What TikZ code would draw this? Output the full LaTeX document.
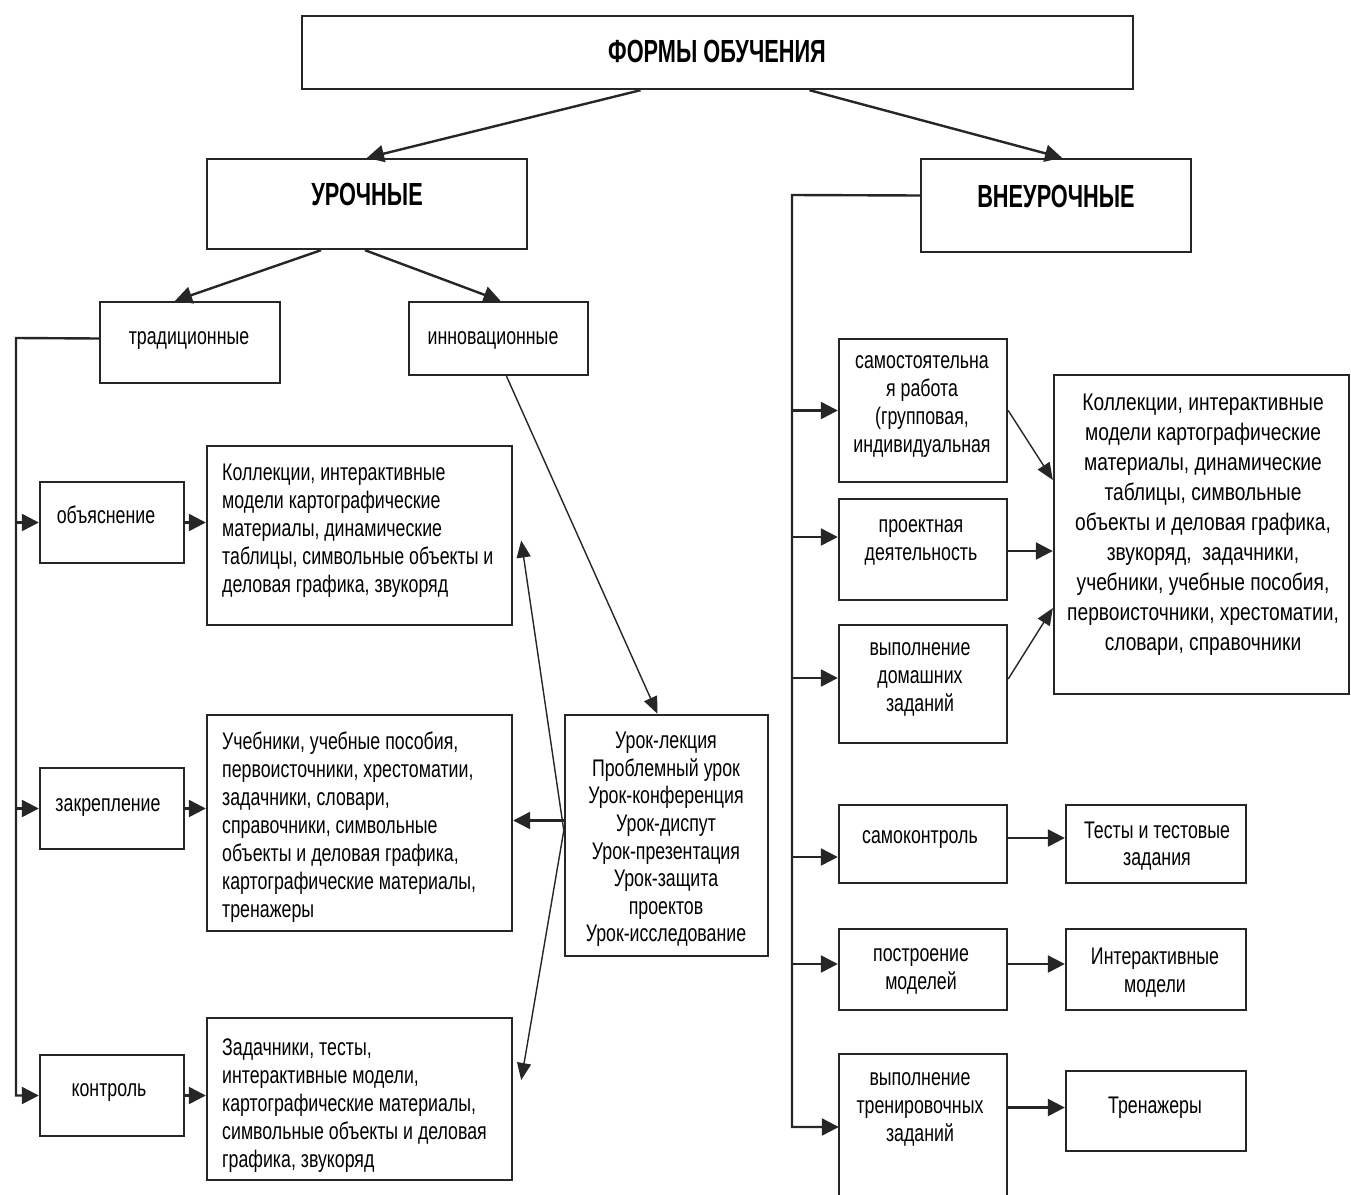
\documentclass[tikz,border=0pt]{standalone}
\usepackage{fontspec}
\setmainfont[FakeStretch=0.74]{Liberation Sans}
\newfontfamily\widefont[FakeStretch=0.8]{Liberation Sans}
\newfontfamily\headfont[FakeStretch=0.68]{Liberation Sans}
\usetikzlibrary{arrows.meta,calc,fit}
\begin{document}
\begin{tikzpicture}[x=1pt,y=-1pt,
  box/.style={draw=black!85, line width=2.4pt, inner sep=0pt},
  lnk/.style={draw=black!85, line width=2.4pt},
  arr/.style={lnk, -{Triangle[length=17pt,width=17pt]}},
  tarr/.style={draw=black!85, line width=1.4pt, -{Triangle[length=17pt,width=14pt]}},
  head/.style={font=\headfont\fontsize{32}{36}\selectfont\bfseries, anchor=base, inner sep=0pt},
  txt/.style={font=\fontsize{24}{28}\selectfont, anchor=north, align=center, inner sep=0pt, yshift=-5pt, execute at begin node=\strut},
  ltxt/.style={txt, anchor=north west, align=left}
]
\useasboundingbox[fill=white] (0,0) rectangle (1351,1194);

% headings
\node[box, fit={(302,16)(1133,89)}] (title) {};
\node[head] (titleT) at (717,62) {ФОРМЫ ОБУЧЕНИЯ};
\node[box, fit={(207,159)(527,249)}] (uro) {};
\node[head] (uroT) at (367,205) {УРОЧНЫЕ};
\node[box, fit={(921,159)(1191,252)}] (vne) {};
\node[head] (vneT) at (1056,207) {ВНЕУРОЧНЫЕ};

% left part
\node[box, fit={(100,302)(280,383)}] (trad) {};
\node[txt] (tradT) at (189,320) {традиционные};
\node[box, fit={(409,302)(588,375)}] (inn) {};
\node[txt] (innT) at (493,320) {инновационные};

\node[box, fit={(40,482)(184,563)}] (obj) {};
\node[txt] (objT) at (106,499) {объяснение};
\node[box, fit={(40,768)(184,849)}] (zak) {};
\node[txt] (zakT) at (108,787) {закрепление};
\node[box, fit={(40,1055)(184,1136)}] (kon) {};
\node[txt] (konT) at (109,1072) {контроль};

\node[box, fit={(207,446)(512,625)}] (b1) {};
\node[ltxt] (b1T) at (222,459) {Коллекции, интерактивные\\модели картографические\\материалы, динамические\\таблицы, символьные объекты и\\деловая графика, звукоряд};
\node[box, fit={(207,715)(512,931)}] (b2) {};
\node[ltxt] (b2T) at (222,727) {Учебники, учебные пособия,\\первоисточники, хрестоматии,\\задачники, словари,\\справочники, символьные\\объекты и деловая графика,\\картографические материалы,\\тренажеры};
\node[box, fit={(207,1018)(512,1180)}] (b3) {};
\node[ltxt] (b3T) at (222,1034) {Задачники, тесты,\\интерактивные модели,\\картографические материалы,\\символьные объекты и деловая\\графика, звукоряд};

\node[box, fit={(565,715)(768,956)}] (les) {};
\node[txt, font=\fontsize{24}{27.6}\selectfont] (lesT) at (666,727) {Урок-лекция\\Проблемный урок\\Урок-конференция\\Урок-диспут\\Урок-презентация\\Урок-защита\\проектов\\Урок-исследование};

% right part
\node[box, fit={(839,339)(1007,482)}] (sam) {};
\node[txt] (samT) at (922,350) {самостоятельна\\я работа\\(групповая,\\индивидуальная};
\node[box, fit={(839,499)(1007,600)}] (proj) {};
\node[txt] (projT) at (921,514) {проектная\\деятельность};
\node[box, fit={(839,625)(1007,743)}] (dom) {};
\node[txt] (domT) at (920,637) {выполнение\\домашних\\заданий};
\node[box, fit={(1054,375)(1349,694)}] (bigR) {};
\node[txt, font=\widefont\fontsize{24}{30}\selectfont] (bigRT) at (1203,389) {Коллекции, интерактивные\\модели картографические\\материалы, динамические\\таблицы, символьные\\объекты и деловая графика,\\звукоряд,\ \ задачники,\\учебники, учебные пособия,\\первоисточники, хрестоматии,\\словари, справочники};

\node[box, fit={(839,805)(1007,883)}] (samk) {};
\node[txt] (samkT) at (920,819) {самоконтроль};
\node[box, fit={(1066,805)(1246,883)}] (tst) {};
\node[txt, font=\fontsize{24}{27}\selectfont] (tstT) at (1157,817) {Тесты и тестовые\\задания};
\node[box, fit={(839,929)(1007,1010)}] (post) {};
\node[txt] (postT) at (921,943) {построение\\моделей};
\node[box, fit={(1066,929)(1246,1010)}] (intm) {};
\node[txt] (intmT) at (1155,943) {Интерактивные\\модели};
\node[fit={(839,1054)(1007,1200)}, inner sep=0pt] (vtr) {};
\draw[lnk] (vtr.south west) -- (vtr.north west) -- (vtr.north east) -- (vtr.south east);
\node[txt] (vtrT) at (920,1067) {выполнение\\тренировочных\\заданий};
\node[box, fit={(1066,1071)(1246,1151)}] (tren) {};
\node[txt] (trenT) at (1155,1089) {Тренажеры};

% connectors: top
\draw[arr] ($(title.south)+(-77,0)$) -- (uro.north);
\draw[arr] ($(title.south)+(92,0)$) -- ($(vne.north)+(6,0)$);
\draw[arr] ($(uro.south)+(-46,0)$) -- ($(trad.north)+(-15,0)$);
\draw[arr] ($(uro.south)+(-2,0)$) -- ($(inn.north)+(2,0)$);

% left trunk
\coordinate (L) at (16,338);
\draw[arr] ($(trad.west)+(0,-4)$) -- (L) -- (L |- kon.west) -- (kon.west);
\draw[arr] (L |- obj.west) -- (obj.west);
\draw[arr] (L |- zak.west) -- (zak.west);
\draw[arr] (obj.east) -- (obj.east -| b1.west);
\draw[arr] (zak.east) -- (zak.east -| b2.west);
\draw[arr] (kon.east) -- (kon.east -| b3.west);

% innovative
\draw[tarr] ($(inn.south)+(8,0)$) -- ($(les.north)+(-9,0)$);
\coordinate (LW) at ($(les.west)+(0,-15)$);
\draw[arr] (LW) -- (LW -| b2.east);
\coordinate (LC) at ($(les.west)+(0,-5)$);
\draw[tarr] (LC) -- ($(b1.east)+(8,5)$);
\draw[tarr] (LC) -- ($(b3.east)+(8,-19)$);

% right trunk
\coordinate (R) at (792,195);
\draw[arr] ($(vne.west)+(0,-10)$) -- (R) -- (R |- vtr.west) -- (vtr.west);
\draw[arr] (R |- sam.west) -- (sam.west);
\coordinate (pw) at ($(proj.west)+(0,-12.5)$);
\draw[arr] (R |- pw) -- (pw);
\coordinate (dw) at ($(dom.west)+(0,-6)$);
\draw[arr] (R |- dw) -- (dw);
\coordinate (sw) at ($(samk.west)+(0,13)$);
\draw[arr] (R |- sw) -- (sw);
\coordinate (qw) at ($(post.west)+(0,-5.5)$);
\draw[arr] (R |- qw) -- (qw);

% right connections
\draw[tarr] (sam.east) -- ($(bigR.west)+(0,-54.5)$);
\coordinate (pe) at ($(proj.east)+(0,1.5)$);
\draw[arr] (pe) -- (pe -| bigR.west);
\draw[tarr] ($(dom.east)+(0,-5)$) -- ($(bigR.west)+(0,73.5)$);
\coordinate (se) at ($(samk.east)+(0,-6)$);
\draw[arr] (se) -- (se -| tst.west);
\coordinate (qe) at ($(post.east)+(0,-5.5)$);
\draw[arr] (qe) -- (qe -| intm.west);
\coordinate (te) at ($(tren.west)+(0,-3.5)$);
\draw[arr] (te -| vtr.east) -- (te);
\end{tikzpicture}
\end{document}
